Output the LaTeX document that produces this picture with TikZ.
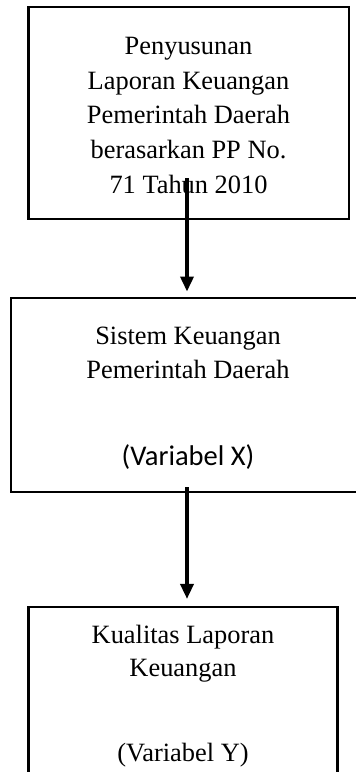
\documentclass[tikz,border=0pt]{standalone}
\usepackage{fontspec}
\setmainfont{Liberation Serif}
\newfontfamily\calibri{Carlito}
\usetikzlibrary{arrows.meta,positioning}

\begin{document}
\begin{tikzpicture}[x=0.75pt,y=0.75pt,yscale=-1,xscale=1,
  box/.style={draw, line width=2.2pt, inner sep=0pt},
  lbl/.style={anchor=base, inner sep=0pt, font=\fontsize{19.8pt}{24pt}\selectfont},
  flow/.style={line width=2.6pt, -{Triangle[width=9.75pt,length=11.25pt]}}]
\useasboundingbox (0,0) rectangle (355,772);

% Boxes
\node[box, minimum width=240.4pt, minimum height=159pt] (penyusunan) at (188.75,113) {};
\node[box, minimum width=266.25pt, minimum height=145.5pt] (sistem) at (188.5,395) {};
\node[box, line width=1.6pt, minimum width=231.75pt, minimum height=167.25pt] (kualitas) at (183,718.5) {};

% Text Nodes
\node[lbl] (p1) at (188.5,54.5) {Penyusunan};
\node[lbl] (p2) at (188.5,89.2) {Laporan Keuangan};
\node[lbl] (p3) at (188.5,123.9) {Pemerintah Daerah};
\node[lbl] (p4) at (188.5,158.6) {berasarkan PP No.};
\node[lbl] (p5) at (188.5,193.3) {71 Tahun 2010};

\node[lbl] (s1) at (188,344.3) {Sistem Keuangan};
\node[lbl] (s2) at (188,378.3) {Pemerintah Daerah};
\node[lbl, font=\calibri\fontsize{21.4pt}{26pt}\selectfont] (s3) at (188,465) {(Variabel X)};

\node[lbl] (k1) at (183,643.3) {Kualitas Laporan};
\node[lbl] (k2) at (183,676.7) {Keuangan};
\node[lbl] (k3) at (183,761) {(Variabel Y)};

% Connections
\coordinate (start1) at (187,178);
\coordinate (start2) at (187,487);
\draw[flow, shorten >=3.75pt] (start1) -- (start1 |- sistem.north);
\draw[flow, shorten >=5.25pt] (start2) -- (start2 |- kualitas.north);

\end{tikzpicture}
\end{document}
